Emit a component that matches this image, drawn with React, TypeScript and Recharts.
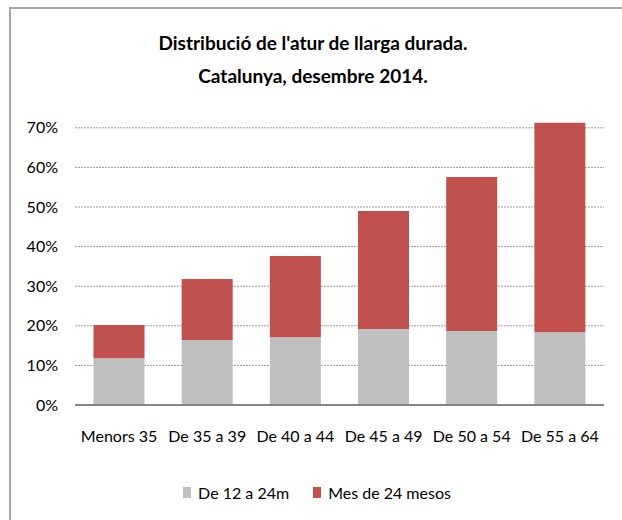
import { BarChart, Bar, XAxis, YAxis, CartesianGrid, Legend } from "recharts"

const categories = ["Menors 35", "De 35 a 39", "De 40 a 44", "De 45 a 49", "De 50 a 54", "De 55 a 64"]
const de12a24 = [11.8, 16.4, 17.1, 19.2, 18.7, 18.4]
const mesDe24 = [8.4, 15.4, 20.5, 29.8, 38.9, 52.9]
const yTicks = [0, 10, 20, 30, 40, 50, 60, 70]

const seriesNames = ["De 12 a 24m", "Mes de 24 mesos"]
const colors = ["#BFBFBF", "#C0504D"]

const data = categories.map((cat, i) => ({
  cat,
  a: de12a24[i],
  b: mesDe24[i],
}))

const font = "Lato, 'Open Sans', sans-serif"

function LegendBox() {
  return (
    <div
      style={{
        height: 30,
        display: "flex",
        justifyContent: "center",
        alignItems: "center",
        paddingLeft: 30,
        fontFamily: font,
        fontSize: 16,
        color: "#000",
      }}
    >
      {seriesNames.map((name, i) => (
        <div key={name} style={{ display: "flex", alignItems: "center", marginRight: i === 0 ? 24 : 0 }}>
          <span style={{ display: "inline-block", width: 8, height: 11, background: colors[i], marginRight: 7 }} />
          <span>{name}</span>
        </div>
      ))}
    </div>
  )
}

export default function App() {
  return (
    <div style={{ position: "fixed", left: 0, top: 0, width: 622, height: 520, overflow: "hidden", background: "#fff" }}>
      <div
        style={{
          position: "absolute",
          left: 9,
          top: 7,
          width: 700,
          height: 600,
          borderLeft: "2px solid #a6a6a6",
          borderTop: "2px solid #a6a6a6",
        }}
      />
      <div
        style={{
          position: "absolute",
          left: 0,
          width: 626,
          top: 26,
          textAlign: "center",
          fontFamily: font,
          fontWeight: 700,
          fontSize: 19,
          lineHeight: "33px",
          color: "#000",
        }}
      >
        <div>Distribució de l'atur de llarga durada.</div>
        <div>Catalunya, desembre 2014.</div>
      </div>
      <div style={{ position: "absolute", left: 0, top: 0 }}>
        <BarChart
          width={622}
          height={520}
          data={data}
          margin={{ top: 108, right: 18, left: 0, bottom: 45 }}
          barCategoryGap="21%"
        >
          <CartesianGrid
            vertical={false}
            stroke="#9a9a9a"
            strokeDasharray="2 1"
            horizontalValues={yTicks.slice(1)}
          />
          <XAxis
            dataKey="cat"
            height={40}
            tickLine={false}
            tickSize={0}
            tickMargin={26}
            axisLine={{ stroke: "#868686", strokeWidth: 2 }}
            tick={{ fill: "#000", fontSize: 16, fontFamily: font }}
            interval={0}
          />
          <YAxis
            width={75}
            domain={[0, 75]}
            ticks={yTicks}
            tickFormatter={(v: number) => `${v}%`}
            axisLine={false}
            tickLine={false}
            tickSize={0}
            tickMargin={17}
            tick={{ fill: "#000", fontSize: 16, fontFamily: font }}
          />
          <Legend content={<LegendBox />} verticalAlign="bottom" wrapperStyle={{ bottom: 13 }} />
          <Bar dataKey="a" name={seriesNames[0]} stackId="s" fill={colors[0]} isAnimationActive={false} />
          <Bar dataKey="b" name={seriesNames[1]} stackId="s" fill={colors[1]} isAnimationActive={false} />
        </BarChart>
      </div>
    </div>
  )
}
